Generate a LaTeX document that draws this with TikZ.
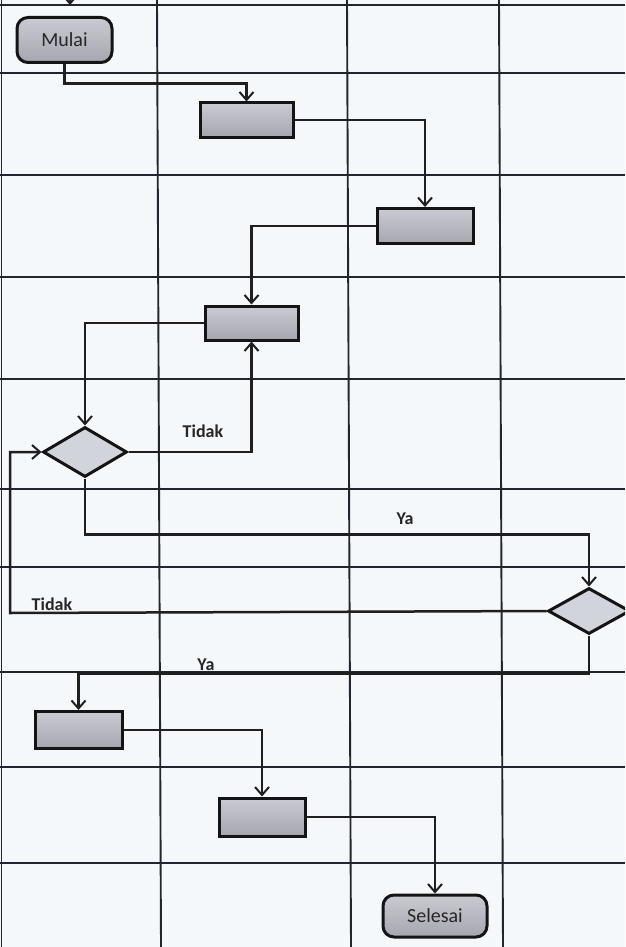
\documentclass[tikz,border=0pt]{standalone}
\usepackage{fontspec}
\setmainfont{Carlito}
\usetikzlibrary{arrows.meta,shapes.geometric}
\definecolor{bg}{HTML}{F5F8FB}
\definecolor{gridc}{HTML}{22252E}
\definecolor{boxtop}{HTML}{CACAD2}
\definecolor{boxbot}{HTML}{A6A6B0}
\definecolor{dia}{HTML}{D2D4DC}
\definecolor{txt}{HTML}{262626}
\tikzset{
  gridline/.style={draw=gridc, line width=1.9pt},
  arr/.style={draw=black!88, line width=2.5pt, -{Straight Barb[length=8pt,width=14pt,line width=2pt]}},
  stepbox/.style={draw=black!92, line width=3pt, rectangle, top color=boxtop, bottom color=boxbot, inner sep=0pt},
  termbox/.style={stepbox, rounded corners=11pt, font=\fontsize{20}{22}\selectfont, text=txt},
  decision/.style={draw=black!92, line width=3pt, diamond, fill=dia, inner sep=0pt, aspect=1.7},
  lbl/.style={font=\bfseries\fontsize{18}{20}\selectfont, text=txt, inner sep=0pt}
}
\begin{document}
\begin{tikzpicture}[x=1pt,y=-1pt]
\path[use as bounding box, fill=bg] (0,0) rectangle (625,947);
\begin{scope}
\clip (0,0) rectangle (625,947);
% grid
\foreach \yy in {5,73,175,277,379,489,567,672,767,863}
  \draw[gridline] (0,\yy) -- (625,\yy);
\draw[gridline] (1.5,0) -- (1.5,947);
\draw[gridline] (157,0) -- (161,947);
\draw[gridline] (347,0) -- (351,947);
\draw[gridline] (499,0) -- (503,947);

% incoming fragment at top
\coordinate (topa) at (70,-6);
\coordinate (topb) at (70,5);
\draw[arr] (topa) -- (topb);

% nodes
\node[termbox, minimum width=95pt, minimum height=45pt] (mulai) at (64.5,40) {Mulai};
\node[stepbox, minimum width=93pt, minimum height=34pt] (b1) at (246.5,120) {};
\node[stepbox, minimum width=96pt, minimum height=35pt] (b2) at (425,226) {};
\node[stepbox, minimum width=93pt, minimum height=34pt] (b3) at (251.5,323) {};
\node[decision, minimum width=84pt, minimum height=50pt] (d1) at (85,452) {};
\node[decision, minimum width=82pt, minimum height=46pt] (d2) at (589,611) {};
\node[stepbox, minimum width=87pt, minimum height=37pt] (b4) at (78.5,730) {};
\node[stepbox, minimum width=86pt, minimum height=38pt] (b5) at (262,817) {};
\node[termbox, minimum width=104pt, minimum height=42pt] (selesai) at (435,916) {Selesai};

% connectors
\draw[arr] (mulai.south) -- ++(0,19.5) -| (b1.north);
\draw[arr] (b1.east) -| (b2.north);
\draw[arr] (b2.west) -| (b3.north);
\draw[arr] (b3.west) -| (d1.north);
\draw[arr] (d1.east) -| (b3.south);
\draw[arr] (d1.south) -- ++(0,56) -| (d2.north);
\coordinate (lx) at (10,613);
\draw[arr] (d2.west) -- (lx) |- (d1.west);
\draw[arr] (d2.south) -- ++(0,38) -| (b4.north);
\draw[arr] (b4.east) -| (b5.north);
\draw[arr] (b5.east) -| (selesai.north);

% labels
\node[lbl] (t1) at (203,431) {Tidak};
\node[lbl] (y1) at (405,519) {Ya};
\node[lbl] (t2) at (52,604) {Tidak};
\node[lbl] (y2) at (206,665) {Ya};
\end{scope}
\end{tikzpicture}
\end{document}
